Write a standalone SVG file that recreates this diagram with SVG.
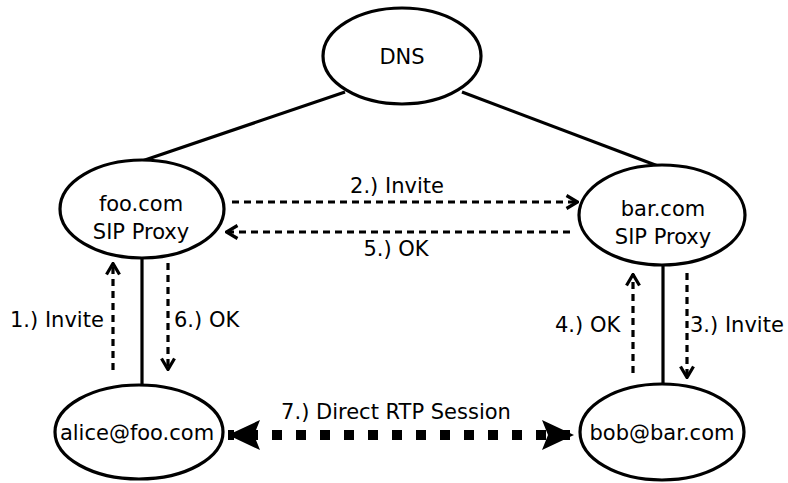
<svg xmlns="http://www.w3.org/2000/svg" width="788" height="483" viewBox="0 0 788 483">
<defs>
<style>
.node{fill:#fff;stroke:#000;stroke-width:3.2}
text{font-family:"DejaVu Sans",Verdana,sans-serif;font-size:21px;fill:#000}
.c{text-anchor:middle}
.solid{stroke:#000;stroke-width:3.2;fill:none}
.dash{stroke:#000;stroke-width:3.2;fill:none;stroke-dasharray:7 5}
.rtp{stroke:#000;stroke-width:10;fill:none;stroke-dasharray:10 14}
</style>
<marker id="open" viewBox="0 0 14 16" refX="13" refY="8" markerWidth="14" markerHeight="16" markerUnits="userSpaceOnUse" orient="auto">
<path d="M1.5,1.5 L12.5,8 L1.5,14.5" fill="none" stroke="#000" stroke-width="3.2"/>
</marker>
<marker id="fill" viewBox="0 0 32 30" refX="32" refY="15" markerWidth="32" markerHeight="30" markerUnits="userSpaceOnUse" orient="auto-start-reverse">
<path d="M0,0 L32,15 L0,30 L6,15 Z" fill="#000"/>
</marker>
</defs>
<g id="connectors">
<line class="solid" x1="345" y1="92" x2="142" y2="161"/>
<line class="solid" x1="462" y1="92" x2="658" y2="166"/>
<line class="solid" x1="142" y1="257" x2="142" y2="385"/>
<line class="solid" x1="663" y1="265" x2="663" y2="384"/>
<line class="dash" x1="232" y1="202" x2="578" y2="202" marker-end="url(#open)"/>
<line class="dash" x1="570" y1="232" x2="226" y2="232" marker-end="url(#open)"/>
<line class="dash" x1="113" y1="370" x2="113" y2="263" marker-end="url(#open)"/>
<line class="dash" x1="168" y1="263" x2="168" y2="370" marker-end="url(#open)"/>
<line class="dash" x1="633" y1="373" x2="633" y2="274" marker-end="url(#open)"/>
<line class="dash" x1="687" y1="273" x2="687" y2="378" marker-end="url(#open)"/>
<line class="rtp" x1="228" y1="435" x2="574" y2="435" marker-start="url(#fill)" marker-end="url(#fill)" stroke-dashoffset="-20"/>
<text class="c" x="397" y="193">2.) Invite</text>
<text class="c" x="396" y="256">5.) OK</text>
<text x="10" y="327">1.) Invite</text>
<text x="174" y="327">6.) OK</text>
<text x="555" y="332">4.) OK</text>
<text x="690" y="332">3.) Invite</text>
<text class="c" x="396" y="419">7.) Direct RTP Session</text>
</g>
<g id="dns">
<ellipse class="node" cx="402" cy="56" rx="79" ry="48"/>
<text class="c" x="402" y="64">DNS</text>
</g>
<g id="foo">
<ellipse class="node" cx="142" cy="209" rx="82" ry="49"/>
<text class="c" x="141" y="211">foo.com</text>
<text class="c" x="141" y="239">SIP Proxy</text>
</g>
<g id="bar">
<ellipse class="node" cx="662" cy="215" rx="83" ry="50"/>
<text class="c" x="663" y="216">bar.com</text>
<text class="c" x="663" y="244">SIP Proxy</text>
</g>
<g id="alice">
<ellipse class="node" cx="139" cy="432" rx="84" ry="47"/>
<text class="c" x="137" y="440">alice@foo.com</text>
</g>
<g id="bob">
<ellipse class="node" cx="662" cy="432" rx="82" ry="48"/>
<text class="c" x="662" y="440">bob@bar.com</text>
</g>
</svg>
